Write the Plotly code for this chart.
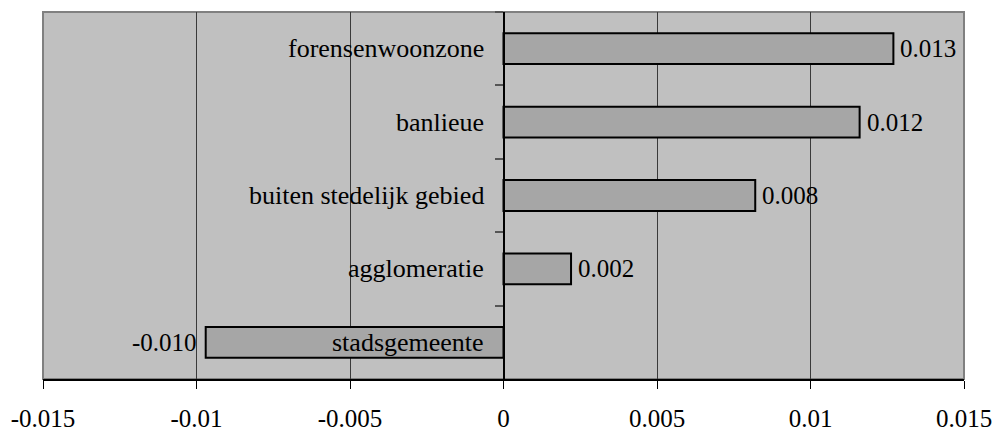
import plotly.graph_objects as go

# Regions, listed top to bottom
categories = [
    "forensenwoonzone",
    "banlieue",
    "buiten stedelijk gebied",
    "agglomeratie",
    "stadsgemeente",
]
values = [0.0127, 0.0116, 0.0082, 0.0022, -0.0097]

x_tick_vals = [-0.015, -0.01, -0.005, 0, 0.005, 0.01, 0.015]
x_tick_text = ["-0.015", "-0.01", "-0.005", "0", "0.005", "0.01", "0.015"]

FONT = "Liberation Serif, Times New Roman, serif"

fig = go.Figure(
    go.Bar(
        x=values,
        y=categories,
        orientation="h",
        marker=dict(color="#a6a6a6", line=dict(color="#000000", width=2)),
        hoverinfo="x+y",
    )
)

annotations = []
for cat, v in zip(categories, values):
    # value label just beyond the bar end
    annotations.append(
        dict(
            x=v, y=cat, xref="x", yref="y",
            text=f"{v:.3f}",
            showarrow=False,
            xanchor="left" if v >= 0 else "right",
            xshift=5 if v >= 0 else -7,
            font=dict(family=FONT, size=25, color="#000000"),
        )
    )
    # category name right-aligned against the zero axis
    annotations.append(
        dict(
            x=0, y=cat, xref="x", yref="y",
            text=cat,
            showarrow=False,
            xanchor="right",
            xshift=-18,
            font=dict(family=FONT, size=26, color="#000000"),
        )
    )

fig.update_layout(
    width=1007,
    height=432,
    margin=dict(l=43, r=43, t=12, b=53),
    paper_bgcolor="#ffffff",
    plot_bgcolor="#c0c0c0",
    showlegend=False,
    bargap=0.58,
    annotations=annotations,
    shapes=[
        dict(
            type="rect", xref="paper", yref="paper",
            x0=0, x1=1, y0=0, y1=1,
            line=dict(color="#808080", width=2),
            layer="below",
        )
    ],
    xaxis=dict(
        range=[-0.015, 0.015],
        tickvals=x_tick_vals,
        ticktext=x_tick_text,
        showgrid=True,
        gridcolor="#3a3a3a",
        gridwidth=1,
        zeroline=False,
        showline=True,
        linecolor="#000000",
        linewidth=1.5,
        ticks="outside",
        ticklen=8,
        tickcolor="#000000",
        ticklabelstandoff=8,
        automargin=False,
        tickfont=dict(family=FONT, size=25, color="#000000"),
    ),
    yaxis=dict(
        type="category",
        autorange="reversed",
        anchor="free",
        position=0.5,
        automargin=False,
        showticklabels=False,
        tickson="boundaries",
        ticks="outside",
        ticklen=8,
        tickcolor="#555555",
        tickwidth=2,
        showline=True,
        linecolor="#000000",
        linewidth=2,
        showgrid=False,
        zeroline=False,
    ),
)

fig.write_html("out.html")
